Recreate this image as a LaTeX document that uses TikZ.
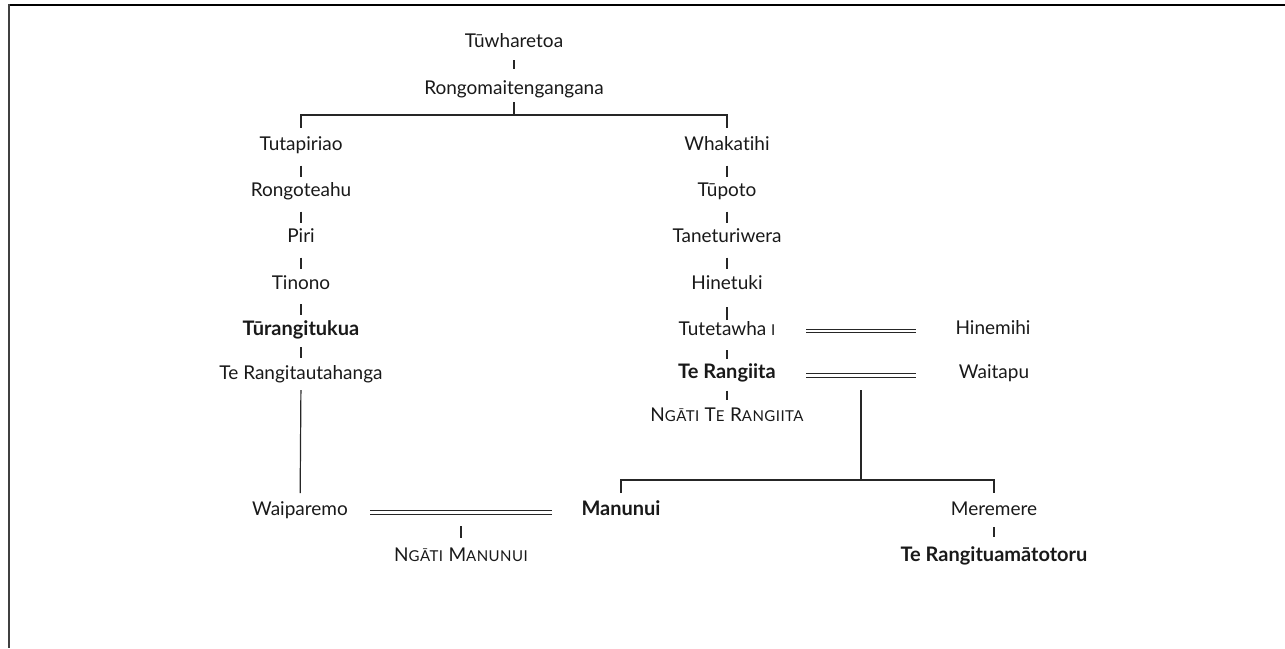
\documentclass[tikz,border=0pt]{standalone}
\usepackage{fontspec}
\setmainfont{Lato}[Ligatures=NoCommon]
\usetikzlibrary{calc}
\newcommand{\namefont}{\fontsize{19pt}{22pt}\selectfont}
\newcommand{\boldnamefont}{\fontsize{20pt}{22pt}\selectfont\bfseries}
\newcommand{\lowcap}[1]{{\fontsize{15pt}{16pt}\selectfont #1}}
\newcommand{\capline}[1]{{\addfontfeature{LetterSpace=3}#1}}
\begin{document}
\begin{tikzpicture}[x=1pt,y=-1pt,
  person/.style={anchor=base, inner sep=0pt, text=black!90, font=\namefont},
  chief/.style={person, font=\boldnamefont},
  kin/.style={line width=1.2pt, draw=black!85},
  tickline/.style={kin, shorten <=15pt, shorten >=20pt},
  marriage/.style={draw=black!85, line width=0.9pt, double, double distance=2.6pt}
]
\useasboundingbox (0,0) rectangle (1285,648);
% page frame (top and left edges)
\draw[line width=1.8pt, black] (8,4.8) -- (1285,4.8);
\draw[line width=1.8pt, black!75] (9,4) -- (9,648);

% ancestors
\node[person] (root)  at (514,47)  {Tūwharetoa};
\node[person] (rongo) at (514,94)  {Rongomaitengangana};

% left line of descent
\node[person] (tutap)    at (301,150.5) {Tutapiriao};
\node[person] (rongot)   at (301,196.5) {Rongoteahu};
\node[person] (piri)     at (301,242.5) {Piri};
\node[person] (tinono)   at (301,289)   {Tinono};
\node[chief]  (turang)   at (301,335)   {Tūrangitukua};
\node[person] (terangit) at (301,379.5) {Te Rangitautahanga};
\node[person] (waip)     at (300,515)   {Waiparemo};
\node[person] (ngmanu)   at (461,561)   {\capline{N\lowcap{GĀTI} M\lowcap{ANUNUI}}};

% right line of descent
\node[person] (whak)       at (727,150.5) {Whakatihi};
\node[person] (tupoto)     at (727,196.5) {Tūpoto};
\node[person] (tanet)      at (727,242.5) {Taneturiwera};
\node[person] (hinet)      at (727,289)   {Hinetuki};
\node[person] (tutet)      at (727,335)   {Tutetawha \lowcap{I}};
\node[chief]  (terangiita) at (727,378.5) {Te Rangiita};
\node[person] (ngteran)    at (727,421)   {\capline{N\lowcap{GĀTI} T\lowcap{E} R\lowcap{ANGIITA}}};

% spouses
\node[person] (hinemihi) at (993,334)   {Hinemihi};
\node[person] (waitapu)  at (994,378.5) {Waitapu};

% children of Te Rangiita and Waitapu
\node[chief]  (manunui)    at (621,515) {Manunui};
\node[person] (meremere)   at (994,515) {Meremere};
\node[chief]  (terangitua) at (994,561) {Te Rangituamātotoru};

% junction points
\coordinate (jA) at (514,115);
\coordinate (dB) at (861,390);
\coordinate (jB) at (861,480);
\coordinate (dC) at (461,526);
\coordinate (mA1) at (806,331);   \coordinate (mA2) at (916,331);
\coordinate (mB1) at (806,375.5); \coordinate (mB2) at (916,375.5);
\coordinate (mC1) at (370,512.5); \coordinate (mC2) at (552,512.5);

% top of the tree
\draw[kin, shorten <=13pt, shorten >=25pt] (root.base) -- (rongo.base);
\draw[kin, shorten <=8pt] (rongo.base) -- (jA);
\draw[kin] ($(tutap.base)+(0,-23)$) |- (jA) -| ($(whak.base)+(0,-23)$);

% left chain
\draw[tickline] (tutap.base) -- (rongot.base);
\draw[tickline] (rongot.base) -- (piri.base);
\draw[tickline] (piri.base) -- (tinono.base);
\draw[tickline] (tinono.base) -- (turang.base);
\draw[kin, shorten <=12pt, shorten >=22pt] (turang.base) -- (terangit.base);
\draw[kin, shorten <=10.5pt, shorten >=22pt] (terangit.base) -- (waip.base);

% right chain
\draw[tickline] (whak.base) -- (tupoto.base);
\draw[tickline] (tupoto.base) -- (tanet.base);
\draw[tickline] (tanet.base) -- (hinet.base);
\draw[kin, shorten <=18pt, shorten >=15pt] (hinet.base) -- (tutet.base);
\draw[tickline] (tutet.base) -- (terangiita.base);
\draw[kin, shorten <=12pt, shorten >=21pt] (terangiita.base) -- (ngteran.base);

% marriages
\draw[marriage] (mA1) -- (mA2);
\draw[marriage] (mB1) -- (mB2);
\draw[marriage] (mC1) -- (mC2);

% issue of Te Rangiita and Waitapu
\draw[kin] (dB) -- (jB);
\draw[kin] ($(manunui.base)+(0,-22)$) |- (jB) -| ($(meremere.base)+(0,-22)$);
\draw[kin, shorten <=12pt, shorten >=24pt] (meremere.base) -- (terangitua.base);

% issue of Waiparemo and Manunui
\draw[kin] (dC) -- ($(ngmanu.base)+(0,-23)$);
\end{tikzpicture}
\end{document}
